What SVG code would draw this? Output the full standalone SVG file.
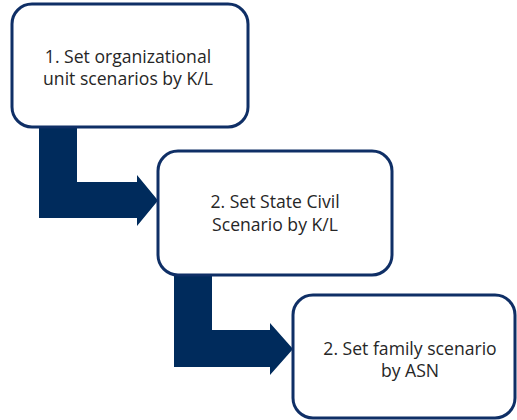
<svg xmlns="http://www.w3.org/2000/svg" width="517" height="420" viewBox="0 0 517 420">
<style>
.box{fill:#ffffff;stroke:#0f2f66;stroke-width:3}
.arrow{fill:#002b5c;stroke:none}
.lbl{font-family:"Open Sans","Liberation Sans",sans-serif;font-size:17.6px;fill:#262626;text-anchor:middle}
</style>
<g id="connectors">
<polygon class="arrow" points="39,124 77,124 77,182 137,182 137,175 158,200.5 137,226 137,218 39,218"/>
<polygon class="arrow" points="174,272 212,272 212,330 270,330 270,323 293,349 270,375 270,367 174,367"/>
</g>
<g id="node1">
<rect class="box" x="12" y="4" width="236" height="123" rx="20"/>
<text class="lbl" x="128" y="63">1. Set organizational</text>
<text class="lbl" x="128" y="85">unit scenarios by K/L</text>
</g>
<g id="node2">
<rect class="box" x="158" y="151" width="234" height="124" rx="20"/>
<text class="lbl" x="275" y="208">2. Set State Civil</text>
<text class="lbl" x="275" y="231">Scenario by K/L</text>
</g>
<g id="node3">
<rect class="box" x="293" y="295" width="222" height="123" rx="20"/>
<text class="lbl" x="410" y="355">2. Set family scenario</text>
<text class="lbl" x="410" y="377">by ASN</text>
</g>
</svg>
